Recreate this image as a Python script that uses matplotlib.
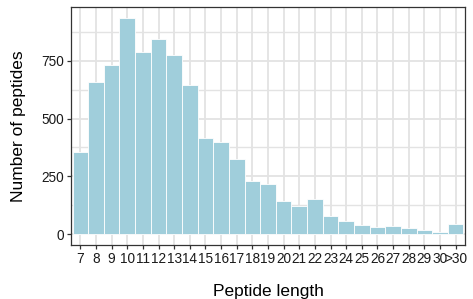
import matplotlib
matplotlib.use("Agg")
import matplotlib.pyplot as plt
import numpy as np
from matplotlib.ticker import MultipleLocator

# peptide length distribution
lengths = ["7", "8", "9", "10", "11", "12", "13", "14", "15", "16", "17", "18", "19",
           "20", "21", "22", "23", "24", "25", "26", "27", "28", "29", "30", ">30"]
counts = [355, 659, 732, 936, 789, 845, 776, 646, 416, 399, 325, 231, 218,
          143, 123, 152, 78, 58, 39, 30, 35, 26, 17, 9, 43]
yticks = [0, 250, 500, 750]

plt.rcParams["font.family"] = ["Liberation Sans", "DejaVu Sans"]

fig = plt.figure(figsize=(4.73, 2.99), dpi=100)
ax = fig.add_axes([71 / 473, 54 / 299, 394 / 473, 238 / 299])

x = np.arange(len(lengths))
ax.bar(x, counts, width=1.0, color="#A0CEDB", edgecolor="white", linewidth=0.6, zorder=3)

ymax = max(counts)
ax.set_ylim(-0.05 * ymax, 1.05 * ymax)
ax.set_xlim(-0.6, len(lengths) - 1 + 0.6)

ax.set_xticks(x)
ax.set_xticklabels(lengths)
ax.set_yticks(yticks)
ax.yaxis.set_minor_locator(MultipleLocator(125))

ax.grid(True, which="major", color="#E3E3E3", linewidth=1.3, zorder=0)
ax.grid(True, which="minor", axis="y", color="#E3E3E3", linewidth=1.0, zorder=0)
ax.set_axisbelow(True)

for s in ax.spines.values():
    s.set_color("#333333")
    s.set_linewidth(0.9)

ax.tick_params(axis="both", which="major", length=3, width=0.9, color="#333333",
               labelsize=9.8, labelcolor="#1a1a1a", pad=2)
ax.tick_params(axis="y", which="minor", length=0)

ax.set_xlabel("Peptide length", fontsize=12.5, labelpad=13)
ax.set_ylabel("Number of peptides", fontsize=12.5, labelpad=11)

fig.savefig("out.png", dpi=100)
